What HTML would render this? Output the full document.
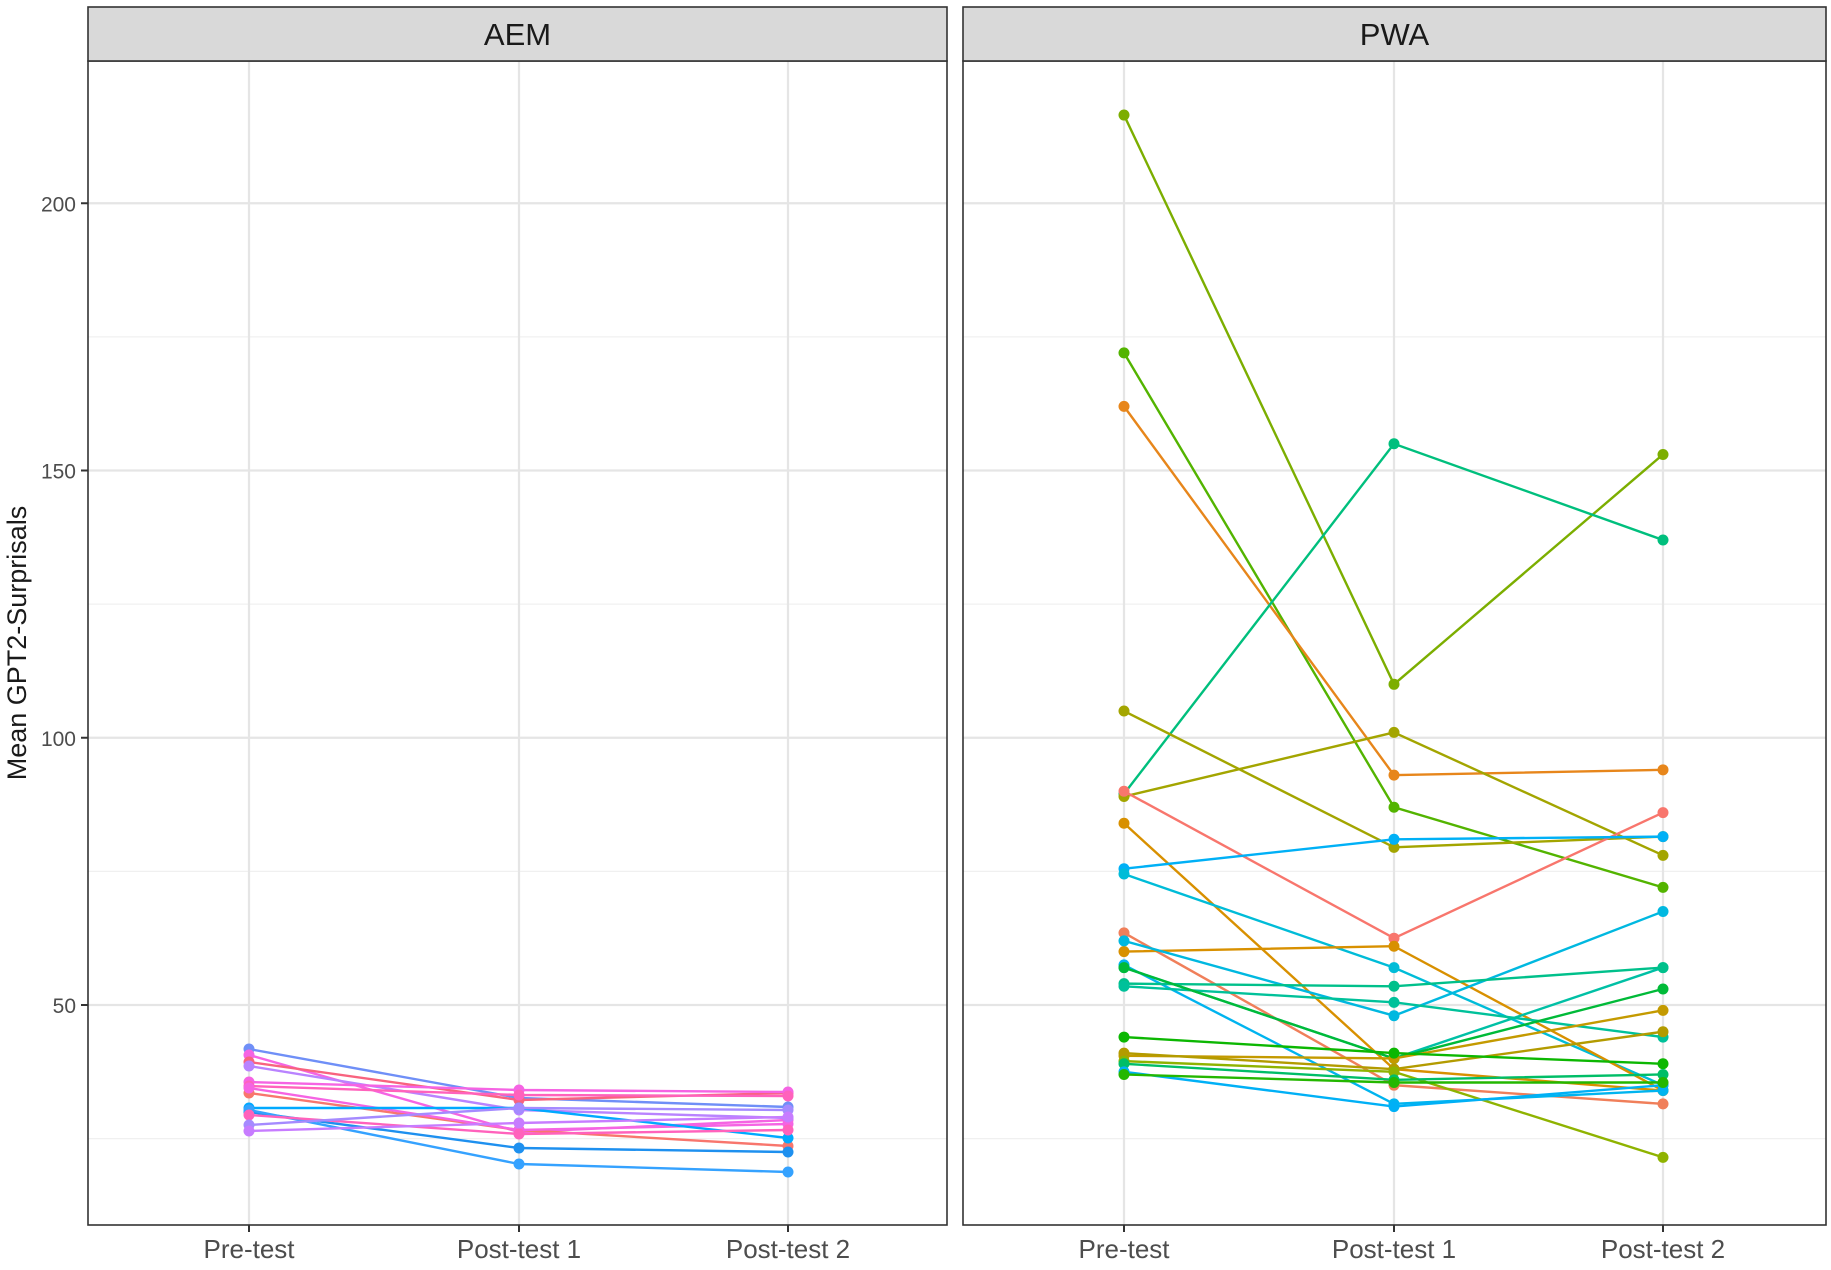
<!DOCTYPE html>
<html><head><meta charset="utf-8"><style>body{margin:0;background:#fff}</style></head>
<body>
<svg id="s" width="1831" height="1265" xmlns="http://www.w3.org/2000/svg" font-family="Liberation Sans, sans-serif"></svg>
<script>
const s=document.getElementById('s');let h='';
const Y=v=>1005-(v-50)*5.345;
const panels=[{x0:88,x1:947,xs:[249,519,788],t:'AEM'},{x0:963,x1:1826,xs:[1124,1394,1663],t:'PWA'}];
for(const p of panels){
 h+=`<rect x="${p.x0}" y="61" width="${p.x1-p.x0}" height="1164" fill="#fff"/>`;
 for(const v of [25,75,125,175]) h+=`<line x1="${p.x0}" x2="${p.x1}" y1="${Y(v)}" y2="${Y(v)}" stroke="#f0f0f0" stroke-width="1.2"/>`;
 for(const v of [50,100,150,200]) h+=`<line x1="${p.x0}" x2="${p.x1}" y1="${Y(v)}" y2="${Y(v)}" stroke="#e5e5e5" stroke-width="2.2"/>`;
 for(const x of p.xs) h+=`<line x1="${x}" x2="${x}" y1="61" y2="1225" stroke="#e5e5e5" stroke-width="2.2"/>`;
}
const L=[['#6f8ff7',1049,1098,1107],['#f564e3',1055,1132,1120],['#f8637f',1062,1100,1093],['#b983ff',1066,1110,1118],['#f564e3',1082,1090,1092],['#ff62bc',1086,1095,1096],['#f8766d',1093,1130,1146],['#f564e3',1088,1130,1124],['#00a9ff',1108,1108,1138],['#1e90ef',1112,1148,1152],['#35a2ff',1110,1164,1172],['#ff62bc',1115,1134,1130],['#a58aff',1125,1108,1110],['#c77cff',1131,1123,1117]];
const R=[['#7cae00',216.5,110,153],['#53b400',172,87,72],['#e7861b',162,93,94],['#00bf7d',89.5,155,137],['#a3a500',105,79.5,81.5],['#a3a500',89,101,78],['#f8766d',90,62.5,86],['#d89000',84,38,34],['#00b0f6',75.5,81,81.5],['#00bcd8',74.5,57,35],['#f07f5a',63.5,35,31.5],['#d89000',60,61,34],['#00b8e0',62,48,67.5],['#00b4ef',57.5,31.5,34],['#00c0a5',57,40,57],['#00c08b',54,53.5,57],['#00c19a',53.5,50.5,44],['#00ba38',57,40,53],['#c49a00',40.5,40,49],['#b39b00',41,38,45],['#0cb702',44,41,39],['#8fb300',39.5,37.5,21.5],['#00be67',39,36,37],['#00b0f6',37.5,31,35],['#24b700',37,35.5,35.5]];
function series(xs,c,ys){h+=`<polyline fill="none" stroke="${c}" stroke-width="2.4" points="${xs.map((x,i)=>x+','+ys[i]).join(' ')}"/>`;xs.forEach((x,i)=>h+=`<circle cx="${x}" cy="${ys[i]}" r="5.5" fill="${c}"/>`);}
L.forEach(l=>series(panels[0].xs,l[0],l.slice(1)));
R.forEach(l=>series(panels[1].xs,l[0],l.slice(1).map(Y)));
for(const p of panels){
 h+=`<rect x="${p.x0}" y="61" width="${p.x1-p.x0}" height="1164" fill="none" stroke="#333" stroke-width="1.6"/>`;
 h+=`<rect x="${p.x0}" y="7" width="${p.x1-p.x0}" height="54" fill="#d9d9d9" stroke="#333" stroke-width="1.6"/>`;
 h+=`<text x="${(p.x0+p.x1)/2}" y="45" font-size="31" text-anchor="middle" fill="#1a1a1a">${p.t}</text>`;
 ['Pre-test','Post-test 1','Post-test 2'].forEach((t,i)=>{h+=`<line x1="${p.xs[i]}" x2="${p.xs[i]}" y1="1225" y2="1232" stroke="#333" stroke-width="2"/><text x="${p.xs[i]}" y="1258" font-size="26" text-anchor="middle" fill="#4d4d4d">${t}</text>`;});
}
for(const v of [50,100,150,200]){h+=`<line x1="81" x2="88" y1="${Y(v)}" y2="${Y(v)}" stroke="#333" stroke-width="2"/><text x="76" y="${Y(v)+8}" font-size="21" text-anchor="end" fill="#4d4d4d">${v}</text>`;}
h+=`<text transform="translate(26,643) rotate(-90)" font-size="27" text-anchor="middle" fill="#1a1a1a">Mean GPT2-Surprisals</text>`;
s.innerHTML=h;
</script>
</body></html>
